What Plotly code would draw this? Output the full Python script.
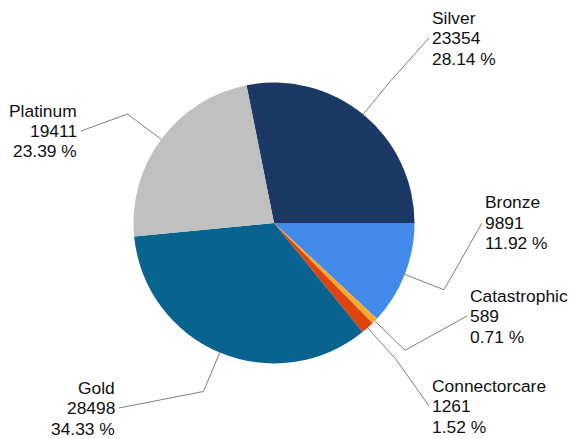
import math
import plotly.graph_objects as go

# ---- data ----
labels = ["Silver", "Bronze", "Catastrophic", "Connectorcare", "Gold", "Platinum"]
values = [23354, 9891, 589, 1261, 28498, 19411]
colors = ["#1c3966", "#428bea", "#fbaa2c", "#e0440e", "#08648f", "#c0c0c0"]

# ---- layout constants (px) ----
W, H = 570, 439
CX, CY, R = 274.0, 223.0, 140.5
KNEE = 1.30
LINE_GAP = 20.5
FONT_SIZE = 17.4
# text anchor (x of text edge, y of middle line) and side
label_pos = {
    "Silver": (431, 38, "left"),
    "Bronze": (484, 223, "left"),
    "Catastrophic": (469, 316, "left"),
    "Connectorcare": (431, 406, "left"),
    "Gold": (116, 408, "right"),
    "Platinum": (78, 131, "right"),
}

total = sum(values)
rotation = -(values[0] / total * 360.0 - 90.0)  # first slice ends at 3 o'clock

fig = go.Figure()
fig.add_trace(go.Pie(
    labels=labels, values=values, sort=False, direction="clockwise",
    rotation=rotation, marker=dict(colors=colors, line=dict(width=0)),
    textinfo="none", showlegend=False,
    domain=dict(x=[(CX - R) / W, (CX + R) / W], y=[1 - (CY + R) / H, 1 - (CY - R) / H]),
))

def px(x, y):
    return x / W, 1 - y / H

shapes = []
annotations = []
cum = 0.0
for lab, v in zip(labels, values):
    mid = rotation + (cum + v / 2) / total * 360.0  # clockwise from 12 o'clock
    cum += v
    a = math.radians(mid)
    ex, ey = CX + R * math.sin(a), CY - R * math.cos(a)
    kx, ky = CX + R * KNEE * math.sin(a), CY - R * KNEE * math.cos(a)
    tx, ty, side = label_pos[lab]
    lx = tx - 2 if side == "left" else tx + 3
    p1, p2, p3 = px(ex, ey), px(kx, ky), px(lx, ty)
    shapes.append(dict(type="path", xref="paper", yref="paper",
                       path=f"M {p1[0]},{p1[1]} L {p2[0]},{p2[1]} L {p3[0]},{p3[1]}",
                       line=dict(color="#7f7f7f", width=1)))
    pct = v / total * 100
    lines = [lab, f"{v}", f"{pct:.2f} %"]
    for i, s in enumerate(lines):
        t = px(tx, ty + (i - 1) * LINE_GAP)
        annotations.append(dict(
            x=t[0], y=t[1], xref="paper", yref="paper", showarrow=False,
            xanchor=side, yanchor="middle", align=side, borderpad=0,
            text=s,
            font=dict(family="Liberation Sans, Arial, sans-serif", size=FONT_SIZE, color="#111111"),
        ))

fig.update_layout(
    width=W, height=H, margin=dict(l=0, r=0, t=0, b=0),
    paper_bgcolor="white", plot_bgcolor="white",
    shapes=shapes, annotations=annotations,
)
fig.write_html("out.html", config={"displayModeBar": False},
               post_script="document.body.style.margin='0';")
